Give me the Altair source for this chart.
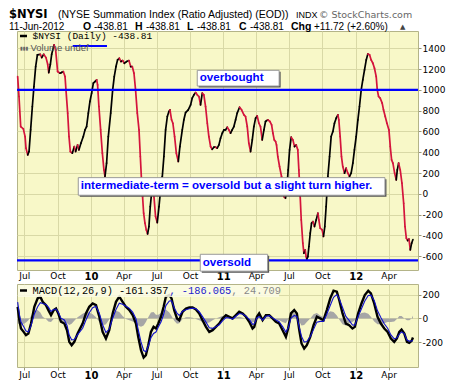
import math
import datetime as dtm
import pandas as pd
import altair as alt

# ---------------- data (decimal-year dates, index values) ----------------
nysi_t = [2009.446, 2009.456, 2009.469, 2009.489, 2009.502, 2009.509, 2009.522, 2009.532, 2009.544, 2009.557,
          2009.569, 2009.582, 2009.595, 2009.617, 2009.628, 2009.643, 2009.660, 2009.673, 2009.681, 2009.693,
          2009.703, 2009.721, 2009.733, 2009.748, 2009.766, 2009.778, 2009.791, 2009.804, 2009.811, 2009.824,
          2009.834, 2009.844, 2009.859, 2009.874, 2009.884, 2009.899, 2009.909, 2009.924, 2009.942, 2009.955,
          2009.967, 2009.980, 2009.992, 2010.005, 2010.018, 2010.030, 2010.043, 2010.050, 2010.060, 2010.073,
          2010.086, 2010.098, 2010.106, 2010.118, 2010.131, 2010.149, 2010.164, 2010.176, 2010.189, 2010.201,
          2010.214, 2010.227, 2010.239, 2010.252, 2010.269, 2010.287, 2010.300, 2010.312, 2010.325, 2010.337,
          2010.350, 2010.363, 2010.373, 2010.383, 2010.390, 2010.398, 2010.408, 2010.418, 2010.428, 2010.438,
          2010.448, 2010.463, 2010.476, 2010.488, 2010.501, 2010.514, 2010.526, 2010.539, 2010.551, 2010.564,
          2010.577, 2010.589, 2010.597, 2010.609, 2010.619, 2010.632, 2010.645, 2010.660, 2010.672, 2010.690,
          2010.702, 2010.715, 2010.735, 2010.753, 2010.765, 2010.778, 2010.791, 2010.803, 2010.816, 2010.828,
          2010.841, 2010.853, 2010.866, 2010.879, 2010.891, 2010.904, 2010.916, 2010.929, 2010.942, 2010.954,
          2010.967, 2010.979, 2010.992, 2011.005, 2011.017, 2011.030, 2011.042, 2011.055, 2011.067, 2011.080,
          2011.093, 2011.105, 2011.123, 2011.138, 2011.156, 2011.168, 2011.181, 2011.193, 2011.206, 2011.219,
          2011.231, 2011.244, 2011.256, 2011.269, 2011.281, 2011.294, 2011.307, 2011.319, 2011.337, 2011.352,
          2011.365, 2011.375, 2011.385, 2011.395, 2011.402, 2011.412, 2011.425, 2011.440, 2011.458, 2011.470,
          2011.480, 2011.490, 2011.501, 2011.513, 2011.526, 2011.538, 2011.551, 2011.563, 2011.571, 2011.581,
          2011.589, 2011.601, 2011.609, 2011.619, 2011.626, 2011.631, 2011.639, 2011.647, 2011.657, 2011.667,
          2011.677, 2011.689, 2011.702, 2011.715, 2011.722, 2011.732, 2011.747, 2011.757, 2011.767, 2011.777,
          2011.790, 2011.803, 2011.815, 2011.828, 2011.840, 2011.853, 2011.866, 2011.873, 2011.883, 2011.893,
          2011.903, 2011.916, 2011.928, 2011.941, 2011.954, 2011.966, 2011.979, 2011.991, 2012.004, 2012.017,
          2012.029, 2012.042, 2012.054, 2012.067, 2012.080, 2012.092, 2012.105, 2012.117, 2012.130, 2012.142,
          2012.155, 2012.163, 2012.173, 2012.185, 2012.200, 2012.210, 2012.223, 2012.236, 2012.251, 2012.261,
          2012.271, 2012.281, 2012.294, 2012.306, 2012.314, 2012.324, 2012.336, 2012.349, 2012.362, 2012.372,
          2012.382, 2012.392, 2012.402, 2012.412, 2012.422, 2012.432]
nysi_v = [1128, 936, 647, 625, 551, 439, 375, 407, 615, 840,
          1032, 1224, 1337, 1342, 1310, 1342, 1310, 1246, 1165, 1246,
          1342, 1433, 1385, 1176, 1160, 1167, 1176, 1128, 1000, 776,
          551, 407, 391, 455, 407, 471, 423, 487, 551, 615,
          647, 776, 888, 968, 1064, 1080, 1096, 1048, 840, 615,
          391, 231, 167, 295, 551, 776, 1000, 1128, 1224, 1288,
          1304, 1272, 1282, 1256, 1272, 1282, 1224, 1224, 1160, 1000,
          776, 615, 359, 103, -26, -186, -282, -346, -385, -314,
          -122, 71, -26, -218, -276, -122, 38, 167, 359, 615,
          744, 792, 808, 712, 679, 551, 391, 311, 455, 615,
          712, 782, 808, 856, 920, 952, 974, 952, 936, 856,
          968, 952, 840, 679, 551, 455, 429, 449, 449, 439,
          471, 535, 583, 615, 615, 641, 615, 583, 615, 647,
          712, 776, 833, 808, 760, 744, 647, 487, 407, 519,
          647, 728, 750, 679, 647, 519, 615, 696, 712, 696,
          663, 583, 519, 503, 471, 359, 263, 167, -26, -42,
          38, 231, 423, 545, 519, 455, 471, 423, 231, -26,
          -250, -474, -571, -538, -603, -628, -603, -506, -378, -282,
          -266, -314, -250, -186, -250, -330, -346, -410, -314, -122,
          167, 359, 551, 599, 679, 728, 760, 712, 551, 359,
          263, 199, 247, 199, 167, 199, 295, 423, 551, 712,
          840, 1000, 1096, 1192, 1288, 1346, 1337, 1288, 1256, 1208,
          1128, 1000, 936, 920, 872, 808, 744, 679, 615, 455,
          327, 295, 199, 135, 231, 295, 231, 103, -90, -314,
          -426, -449, -436, -538, -474, -439]

macd_t = [2009.446, 2009.459, 2009.471, 2009.491, 2009.509, 2009.527, 2009.547, 2009.572, 2009.597, 2009.617,
          2009.635, 2009.660, 2009.678, 2009.698, 2009.718, 2009.736, 2009.753, 2009.773, 2009.799, 2009.819,
          2009.836, 2009.854, 2009.874, 2009.899, 2009.937, 2009.962, 2009.987, 2010.013, 2010.038, 2010.063,
          2010.088, 2010.113, 2010.138, 2010.164, 2010.189, 2010.214, 2010.239, 2010.264, 2010.290, 2010.315,
          2010.340, 2010.357, 2010.378, 2010.398, 2010.415, 2010.433, 2010.453, 2010.473, 2010.491, 2010.509,
          2010.529, 2010.549, 2010.566, 2010.592, 2010.609, 2010.629, 2010.650, 2010.667, 2010.692, 2010.718,
          2010.743, 2010.768, 2010.793, 2010.818, 2010.843, 2010.869, 2010.894, 2010.919, 2010.944, 2010.969,
          2010.994, 2011.020, 2011.045, 2011.070, 2011.095, 2011.120, 2011.146, 2011.171, 2011.196, 2011.221,
          2011.234, 2011.254, 2011.271, 2011.297, 2011.322, 2011.347, 2011.372, 2011.397, 2011.422, 2011.448,
          2011.473, 2011.490, 2011.511, 2011.536, 2011.556, 2011.574, 2011.591, 2011.611, 2011.631, 2011.657,
          2011.682, 2011.707, 2011.732, 2011.757, 2011.782, 2011.808, 2011.833, 2011.858, 2011.876, 2011.901,
          2011.926, 2011.951, 2011.976, 2011.994, 2012.019, 2012.044, 2012.069, 2012.095, 2012.115, 2012.140,
          2012.165, 2012.190, 2012.216, 2012.241, 2012.266, 2012.291, 2012.311, 2012.329, 2012.346, 2012.367,
          2012.387, 2012.404, 2012.422, 2012.432]
macd_v = [98, -15, -85, -113, -141, -127, -43, 98, 169, 183,
          140, 112, 70, 28, 70, 84, 42, -28, -43, -99,
          -197, -225, -197, -127, -43, 42, 98, 126, 112, 14,
          -113, -169, -99, 42, 140, 183, 140, 98, 70, 28,
          -43, -155, -268, -330, -310, -225, -113, -71, -85, -43,
          14, 98, 183, 197, 169, 70, 0, -15, 56, 84,
          92, 92, 76, 42, -15, -71, -113, -99, -71, -43,
          0, 28, 14, 0, 28, 56, 42, 14, -28, -85,
          -71, 14, 42, -15, 28, 28, 0, -28, -43, -99,
          -155, -85, 42, 70, 42, -99, -211, -254, -225, -155,
          -57, 14, 0, -15, 70, 169, 233, 225, 155, 42,
          -43, -57, -85, -71, 42, 126, 197, 233, 211, 126,
          14, -43, -85, -113, -169, -197, -169, -113, -94, -127,
          -197, -206, -189, -161]
signal_v = [138, 35, -30, -68, -106, -112, -63, 38, 99, 133,
            125, 117, 95, 58, 75, 79, 52, 2, -13, -59,
            -142, -180, -177, -137, -83, -13, 48, 91, 102, 44,
            -53, -119, -89, 2, 75, 128, 120, 103, 85, 53,
            -3, -95, -198, -270, -280, -235, -163, -126, -115, -73,
            -31, 33, 108, 147, 149, 90, 45, 25, 61, 74,
            82, 87, 81, 57, 15, -31, -78, -84, -71, -53,
            -20, 8, 4, -5, 18, 41, 37, 19, -8, -50,
            -46, 4, 17, -15, 18, 23, 5, -13, -28, -69,
            -115, -80, 2, 25, 17, -74, -151, -199, -195, -155,
            -92, -31, -25, -25, 35, 109, 178, 200, 165, 92,
            17, -17, -55, -56, 17, 81, 147, 193, 196, 151,
            64, 7, -45, -83, -139, -172, -164, -133, -114, -127,
            -182, -191, -189, -186]
hist_v = [-40, -50, -55, -45, -35, -15, 20, 60, 70, 50,
          15, -5, -25, -30, -5, 5, -10, -30, -30, -40,
          -55, -45, -20, 10, 40, 55, 50, 35, 10, -30,
          -60, -50, -10, 40, 65, 55, 20, -5, -15, -25,
          -40, -60, -70, -60, -30, 10, 50, 55, 30, 30,
          45, 65, 75, 50, 20, -20, -45, -40, -5, 10,
          10, 5, -5, -15, -30, -40, -35, -15, 0, 10,
          20, 20, 10, 5, 10, 15, 5, -5, -20, -35,
          -25, 10, 25, 0, 10, 5, -5, -15, -15, -30,
          -40, -5, 40, 45, 25, -25, -60, -55, -30, 0,
          35, 45, 25, 10, 35, 60, 55, 25, -10, -50,
          -60, -40, -30, -15, 25, 45, 50, 40, 15, -25,
          -50, -50, -40, -30, -30, -25, -5, 20, 20, 0,
          -15, -15, 0, 25]

overbought_level = 1000
oversold_level = -640

marker_t = [2009.862, 2010.121]
marker_v = 1422

ann_text = ["overbought", "intermediate-term = oversold but a slight turn higher.", "oversold"]
ann_t0 = [2010.803, 2009.904, 2010.826]
ann_t1 = [2011.422, 2012.221, 2011.335]
ann_v0 = [1037, -13, -743]
ann_v1 = [1188, 156, -581]

x_domain_t = [2009.441, 2012.470]
tick_months = [(2009, 7), (2009, 10), (2010, 1), (2010, 4), (2010, 7), (2010, 10),
               (2011, 1), (2011, 4), (2011, 7), (2011, 10), (2012, 1), (2012, 4)]
main_y_domain = [-732, 1566]
main_y_ticks = [-600, -400, -200, 0, 200, 400, 600, 800, 1000, 1200, 1400]
macd_y_domain = [-409, 290]
macd_y_ticks = [-200, 0, 200]


# ---------------- helpers ----------------
def to_dt(y):
    yr = int(math.floor(y))
    start = dtm.datetime(yr, 1, 1)
    end = dtm.datetime(yr + 1, 1, 1)
    return start + (end - start) * (y - yr)


def iso(y):
    return to_dt(y).strftime("%Y-%m-%dT%H:%M:%S")


def vl_dt(y):
    d = to_dt(y)
    return alt.DateTime(year=d.year, month=d.month, date=d.day, hours=d.hour, minutes=d.minute)


BLANK = alt.Data(values=[{}])


def label(text, x, y, size=10, weight="normal", color="black", font="Liberation Sans",
          baseline="alphabetic", align="left"):
    return alt.Chart(BLANK).mark_text(
        text=text, fontSize=size, fontWeight=weight, color=color, font=font,
        baseline=baseline, align=align
    ).encode(x=alt.value(x), y=alt.value(y))


GRID = "#D9D9A6"
BLUE = "#0000FF"
RED = "#D4143C"
MONO = "Liberation Mono"

xscale = alt.Scale(domain=[vl_dt(x_domain_t[0]), vl_dt(x_domain_t[1])])
tick_values = [alt.DateTime(year=y, month=m, date=1) for (y, m) in tick_months]
label_expr = "month(datum.value) == 0 ? timeFormat(datum.value, '%y') : timeFormat(datum.value, '%b')"
weight_cond = {"condition": {"test": "month(datum.value) == 0", "value": "bold"}, "value": "normal"}
size_cond = {"condition": {"test": "month(datum.value) == 0", "value": 10}, "value": 9}


def xaxis(ticks):
    return alt.Axis(values=tick_values, tickCount=40, labelExpr=label_expr,
                    labelFontWeight=weight_cond, labelFontSize=size_cond, grid=True,
                    gridColor=GRID, ticks=ticks, tickSize=3, tickColor="#999977",
                    labelPadding=1 if not ticks else 0, domain=False, title=None,
                    labelFlush=False, labelOverlap=False, labelFont="DejaVu Sans",
                    labelColor="black")


def yaxis(values):
    return alt.Axis(orient="right", values=values, tickCount=40, grid=True, gridColor=GRID,
                    ticks=True, tickSize=3, tickColor="#999977", labelPadding=1, domain=False,
                    title=None, labelOverlap=False, labelExpr="'' + datum.value",
                    labelFont="DejaVu Sans", labelFontSize=9, labelColor="black")


# ---------------- main panel ----------------
seg_df = pd.DataFrame({
    "t": [iso(t) for t in nysi_t[:-1]],
    "t2": [iso(t) for t in nysi_t[1:]],
    "v": nysi_v[:-1],
    "v2": nysi_v[1:],
    "dir": ["up" if b >= a else "down" for a, b in zip(nysi_v[:-1], nysi_v[1:])],
})

segs = alt.Chart(seg_df).mark_rule(strokeWidth=1.7, strokeCap="round").encode(
    x=alt.X("t:T", scale=xscale, axis=xaxis(False)),
    x2="t2",
    y=alt.Y("v:Q", scale=alt.Scale(domain=main_y_domain, nice=False, zero=False),
            axis=yaxis(main_y_ticks)),
    y2="v2",
    color=alt.Color("dir:N", scale=alt.Scale(domain=["up", "down"], range=["#000000", RED]),
                    legend=None),
)

hlines = alt.Chart(pd.DataFrame({"v": [overbought_level, oversold_level]})).mark_rule(
    color=BLUE, strokeWidth=2.2).encode(y="v:Q")

marker = alt.Chart(pd.DataFrame({"t": [iso(marker_t[0])], "t2": [iso(marker_t[1])],
                                 "v": [marker_v]})).mark_rule(color=BLUE, strokeWidth=2).encode(
    x="t:T", x2="t2", y="v:Q")

ann_df = pd.DataFrame({
    "t0": [iso(t) for t in ann_t0],
    "t1": [iso(t) for t in ann_t1],
    "v0": ann_v0,
    "v1": ann_v1,
    "vm": [(a + b) / 2 for a, b in zip(ann_v0, ann_v1)],
    "text": ann_text,
})
ann_base = alt.Chart(ann_df)
shadow = ann_base.mark_rect(color="#555555", xOffset=1.5, x2Offset=1.5, yOffset=1.5,
                            y2Offset=1.5).encode(x="t0:T", x2="t1", y="v0:Q", y2="v1")
box = ann_base.mark_rect(fill="white", stroke="#999999", strokeWidth=1).encode(
    x="t0:T", x2="t1", y="v0:Q", y2="v1")
box_text = ann_base.mark_text(align="left", baseline="middle", dx=2.5, font="Liberation Sans",
                              fontWeight="bold", fontSize=11.6, color=BLUE).encode(
    x="t0:T", y="vm:Q", text="text:N")

legend_dash = alt.Chart(BLANK).mark_rule(color="black", strokeWidth=2.5).encode(
    x=alt.value(3), x2=alt.value(10), y=alt.value(5))
legend_txt = label("$NYSI (Daily) -438.81", 15.5, 5, size=9.5, font=MONO, baseline="middle")
vol_icon = label("▮▮▮", 3, 16.5, size=5, color="#666666", font="DejaVu Sans", baseline="middle")
vol_txt = label("Volume undef", 13.5, 16.5, size=9.5, color="#555555", baseline="middle")

L1 = -13
L2 = -1.5
hdr = [
    label("$NYSI", -8, L1, size=11.5, weight="bold", font="DejaVu Sans"),
    label("(NYSE Summation Index (Ratio Adjusted) (EOD))", 41, L1, size=10.5),
    label("INDX", 279, L1, size=9),
    label("© StockCharts.com", 302, L1, size=9.5, color="#666666", font="DejaVu Sans"),
    label("11-Jun-2012", -8, L2, size=10),
    label("O", 66, L2, size=10.5, weight="bold"),
    label("-438.81", 77, L2, size=10),
    label("H", 118, L2, size=10.5, weight="bold"),
    label("-438.81", 129, L2, size=10),
    label("L", 170, L2, size=10.5, weight="bold"),
    label("-438.81", 180, L2, size=10),
    label("C", 222, L2, size=10.5, weight="bold"),
    label("-438.81", 233, L2, size=10),
    label("Chg", 274, L2, size=10.5, weight="bold"),
    label("+11.72 (+2.60%)", 297, L2, size=10),
    label("▲", 383, L2 - 0.5, size=7, color="#444444", font="DejaVu Sans"),
]

main = alt.layer(segs, hlines, marker, shadow, box, box_text, legend_dash, legend_txt,
                 vol_icon, vol_txt, *hdr).properties(width=401, height=239)

# ---------------- MACD panel ----------------
macd_df = pd.DataFrame({"t": [iso(t) for t in macd_t], "macd": macd_v,
                        "signal": signal_v, "hist": hist_v})
mbase = alt.Chart(macd_df)
hist = mbase.mark_area(color="#A6A6A6").encode(
    x=alt.X("t:T", scale=xscale, axis=xaxis(True)),
    y=alt.Y("hist:Q", scale=alt.Scale(domain=macd_y_domain, nice=False, zero=False),
            axis=yaxis(macd_y_ticks)),
)
macd_line = mbase.mark_line(color="black", strokeWidth=2.4).encode(x="t:T", y="macd:Q")
sig_line = mbase.mark_line(color="#1010CC", strokeWidth=1.1).encode(x="t:T", y="signal:Q")

mleg_box = alt.Chart(BLANK).mark_rect(fill="#FBFBE6", opacity=0.85).encode(
    x=alt.value(1), x2=alt.value(262), y=alt.value(1), y2=alt.value(13))
mleg_dash = alt.Chart(BLANK).mark_rule(color="black", strokeWidth=2.5).encode(
    x=alt.value(3), x2=alt.value(10), y=alt.value(6.5))
mleg1 = label("MACD(12,26,9) -161.357", 15.5, 7, size=10.3, font=MONO, baseline="middle")
mleg2 = label(", -186.065", 152.5, 7, size=10.3, color="#2222CC", font=MONO, baseline="middle")
mleg3 = label(", 24.709", 214.5, 7, size=10.3, color="#888888", font=MONO, baseline="middle")

macd = alt.layer(hist, macd_line, sig_line, mleg_box, mleg_dash, mleg1, mleg2, mleg3).properties(
    width=401, height=83)

chart = alt.vconcat(main, macd, spacing=1).properties(
    padding={"left": 0, "top": 0, "right": 0, "bottom": 0}
).configure_view(fill="#F8F8C8", stroke="#B4B488", strokeWidth=1)

chart.save("out.html", embed_options={"renderer": "svg", "actions": False})
